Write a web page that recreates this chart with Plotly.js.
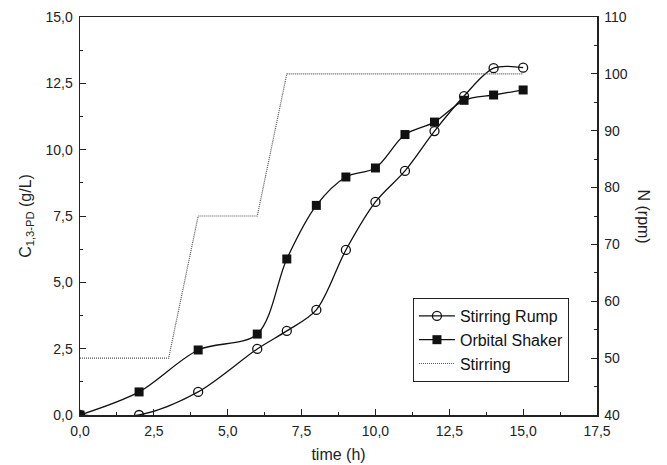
<!DOCTYPE html>
<html>
<head>
<meta charset="utf-8">
<script src="https://cdn.plot.ly/plotly-3.0.1.min.js"></script>
<style>html,body{margin:0;padding:0;background:#fff;}#chart{width:667px;height:465px;}</style>
</head>
<body>
<div id="chart"></div>
<script>
// time points (h)
var timeRump = [0, 2, 4, 6, 7, 8, 9, 10, 11, 12, 13, 14, 15];
var concRump = [0, 0, 0.87, 2.49, 3.17, 3.96, 6.22, 8.03, 9.2, 10.7, 12.02, 13.07, 13.09];

var timeShaker = [0, 2, 4, 6, 7, 8, 9, 10, 11, 12, 13, 14, 15];
var concShaker = [0, 0.87, 2.45, 3.05, 5.88, 7.9, 8.97, 9.31, 10.57, 11.04, 11.86, 12.06, 12.25];

var timeStirring = [0, 3, 4, 6, 7, 15];
var rpmStirring = [50, 50, 75, 75, 100, 100];

var xTicks = [0, 2.5, 5, 7.5, 10, 12.5, 15, 17.5];
var yTicks = [0, 2.5, 5, 7.5, 10, 12.5, 15];
var y2Ticks = [40, 50, 60, 70, 80, 90, 100, 110];

var FAM = 'Liberation Sans, Arial, sans-serif';
var tickFont = {family: FAM, size: 14, color: '#222'};

var traces = [
  {
    name: 'Stirring Rump', x: timeRump, y: concRump, mode: 'lines+markers',
    line: {color: '#111', width: 1.3, shape: 'spline', smoothing: 0.9},
    marker: {symbol: 'circle-open', size: 9, color: '#111', line: {width: 1.3, color: '#111'}},
    xaxis: 'x', yaxis: 'y'
  },
  {
    name: 'Orbital Shaker', x: timeShaker, y: concShaker, mode: 'lines+markers',
    line: {color: '#111', width: 1.3, shape: 'spline', smoothing: 0.9},
    marker: {symbol: 'square', size: 9, color: '#111'},
    xaxis: 'x', yaxis: 'y'
  },
  {
    name: 'Stirring', x: timeStirring, y: rpmStirring, mode: 'lines',
    line: {color: '#555', width: 1.2, dash: '1px,1px'},
    xaxis: 'x', yaxis: 'y2'
  }
];

var layout = {
  width: 667, height: 465,
  margin: {l: 80, r: 70, t: 17, b: 50},
  paper_bgcolor: '#fff', plot_bgcolor: '#fff',
  separators: ',.',
  font: tickFont,
  showlegend: true,
  legend: {
    x: 0.644, y: 0.294, xanchor: 'left', yanchor: 'top',
    bordercolor: '#222', borderwidth: 1, bgcolor: '#fff',
    font: {family: FAM, size: 16, color: '#111'},
    tracegroupgap: 0, itemwidth: 36
  },
  xaxis: {
    range: [0, 17.5], tickvals: xTicks, tickformat: '.1f',
    ticks: 'inside', ticklen: 6, tickcolor: '#222', tickwidth: 1,
    minor: {ticks: 'inside', ticklen: 3, dtick: 1.25, tickcolor: '#222'},
    showline: true, linecolor: '#222', linewidth: 1.5, mirror: true,
    showgrid: false, zeroline: false, ticklabelstandoff: 3,
    title: {text: 'time (h)', font: {family: FAM, size: 16, color: '#222'}, standoff: 10},
    tickfont: tickFont
  },
  yaxis: {
    range: [0, 15], tickvals: yTicks, tickformat: '.1f',
    ticks: 'inside', ticklen: 6, tickcolor: '#222',
    minor: {ticks: 'inside', ticklen: 3, dtick: 1.25, tickcolor: '#222'},
    showline: true, linecolor: '#222', linewidth: 1.5,
    showgrid: false, zeroline: false, ticklabelstandoff: 3,
    title: {text: 'C<sub>1,3-PD</sub> (g/L)', font: {family: FAM, size: 16, color: '#222'}, standoff: 10},
    tickfont: tickFont
  },
  yaxis2: {
    overlaying: 'y', side: 'right', range: [40, 110], tickvals: y2Ticks,
    ticks: 'inside', ticklen: 6, tickcolor: '#222',
    minor: {ticks: 'inside', ticklen: 3, dtick: 5, tickcolor: '#222'},
    showline: true, linecolor: '#222', linewidth: 1.5,
    showgrid: false, zeroline: false, ticklabelstandoff: 3,
    tickfont: tickFont
  },
  annotations: [{
    text: 'N (rpm)', xref: 'paper', yref: 'paper', x: 1.09, y: 0.5,
    xanchor: 'center', yanchor: 'middle', showarrow: false, textangle: 90,
    font: {family: FAM, size: 16, color: '#222'}
  }]
};

Plotly.newPlot('chart', traces, layout, {displayModeBar: false, staticPlot: true});
</script>
</body>
</html>
